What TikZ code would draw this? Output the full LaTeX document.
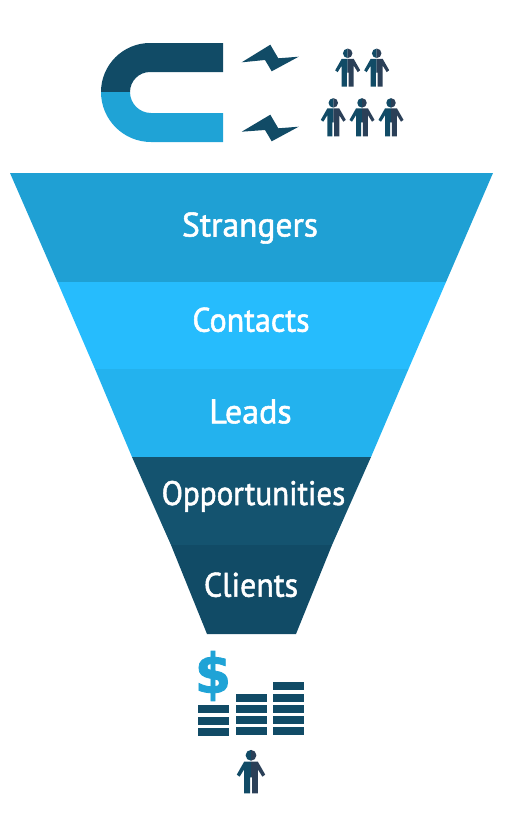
\documentclass[tikz,border=0pt]{standalone}
\usepackage{fontspec}
\setmainfont{PT Sans}[FakeBold=1.6]
\newfontfamily\dollarfont{DejaVu Sans Bold}[FakeBold=1.5]
\definecolor{cStr}{HTML}{1FA0D4}
\definecolor{cCon}{HTML}{26BCFD}
\definecolor{cLea}{HTML}{23B2EE}
\definecolor{cOpp}{HTML}{14536F}
\definecolor{cCli}{HTML}{114B66}
\definecolor{cSlate}{HTML}{2B4058}
\definecolor{cBlue}{HTML}{1FA3D6}
\tikzset{
  band/.style={fill=#1,draw=none},
  flabel/.style={text=white,font=\fontsize{34}{38}\selectfont,inner sep=0pt,anchor=base},
  bar/.style={fill=cCli,draw=none},
  persona/.pic={
    \fill[cCli] (0,-5.4) arc[start angle=270,end angle=90,radius=5.4] -- cycle;
    \fill[cCli] (0,6.3) -- (-6.8,6.3) -- (-14.2,19.3) -- (-11.4,21.4) -- (-6.8,14) -- (-6.8,38) -- (-1,38) -- (-1,22) -- (0,22) -- cycle;
    \fill[cSlate] (0,-5.4) arc[start angle=-90,end angle=90,radius=5.4] -- cycle;
    \fill[cSlate] (0,6.3) -- (6.8,6.3) -- (14.2,19.3) -- (11.4,21.4) -- (6.8,14) -- (6.8,38) -- (1,38) -- (1,22) -- (0,22) -- cycle;
  }
}
\begin{document}
\begin{tikzpicture}[x=1pt,y=-1pt]
\useasboundingbox (0,0) rectangle (508,819);
% funnel
\fill[band=cStr] (10,173) -- (493,173) -- (446,282) -- (57.5,282) -- cycle;
\fill[band=cCon] (57.5,282) -- (446,282) -- (408.5,369) -- (95,369) -- cycle;
\fill[band=cLea] (95,369) -- (408.5,369) -- (371,457) -- (132,457) -- cycle;
\fill[band=cOpp] (132,457) -- (371,457) -- (332,545) -- (171,545) -- cycle;
\fill[band=cCli] (171,545) -- (332,545) -- (296,634) -- (207,634) -- cycle;
\node[flabel,xscale=.985] (strangers) at (250,236.5) {Strangers};
\node[flabel,xscale=.94] (contacts) at (251,331.7) {Contacts};
\node[flabel] (leads) at (250.5,423.3) {Leads};
\node[flabel,xscale=.915] (opportunities) at (253.5,505) {Opportunities};
\node[flabel,xscale=.94] (clients) at (251,596.7) {Clients};
% magnet
\fill[cCli] (223,43) -- (150,43) arc[start angle=270,end angle=180,radius=49] -- (130,92) arc[start angle=180,end angle=270,radius=20] -- (223,72) -- cycle;
\fill[cBlue] (223,142) -- (151,142) arc[start angle=90,end angle=180,radius=50] -- (130,92) arc[start angle=180,end angle=90,radius=21] -- (223,113) -- cycle;
% bolts
\fill[cCli] (241.7,62.3) -- (270.3,44.7) -- (278.3,58.3) -- (298.7,56.7) -- (271.7,71.3) -- (265,60) -- cycle;
\fill[cCli] (241.7,131.7) -- (270.3,114.7) -- (278.3,128.3) -- (298.7,126.7) -- (271.7,141.3) -- (265,130) -- cycle;
% people
\pic[scale=.88] at (347.7,53.3) {persona};
\pic[scale=.88] at (376.7,53.3) {persona};
\pic[scale=.88] at (333.3,102.9) {persona};
\pic[scale=.88] at (362,102.9) {persona};
\pic[scale=.88] at (391,102.9) {persona};
\pic at (251,755.3) {persona};
% dollar
\node[text=cBlue,font=\dollarfont\fontsize{55}{60}\selectfont,inner sep=0pt,anchor=center,xscale=.95] (dollar) at (213,676) {\$};
% bars
\foreach \y in {705.3,716.7,727.7} \fill[bar] (198,\y) rectangle ++(31.3,8);
\foreach \y in {693.7,705,716.3,727.3} \fill[bar] (235.7,\y) rectangle ++(31,8);
\foreach \y in {682.3,693.7,704.7,715.7,726.7} \fill[bar] (273,\y) rectangle ++(31.3,8);
\end{tikzpicture}
\end{document}
